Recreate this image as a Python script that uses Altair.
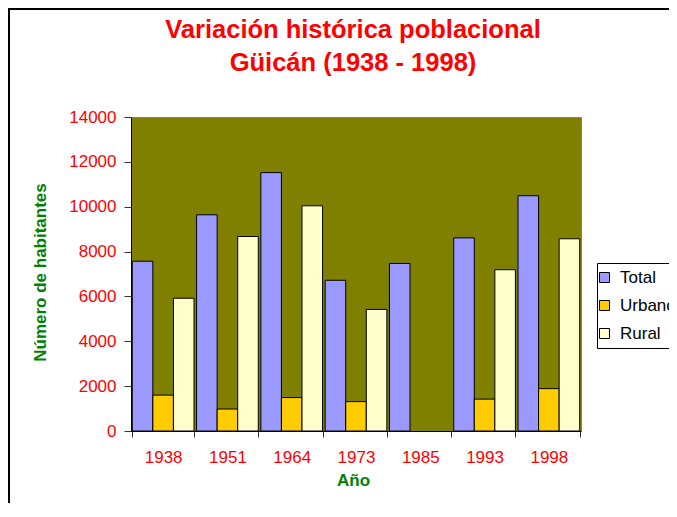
import altair as alt
import pandas as pd

years = ["1938", "1951", "1964", "1973", "1985", "1993", "1998"]
series = ["Total", "Urbano", "Rural"]
total = [7570, 9640, 11520, 6720, 7470, 8610, 10490]
urbano = [1600, 980, 1490, 1310, None, 1420, 1890]
rural = [5920, 8670, 10040, 5420, None, 7190, 8570]
colors = ["#9999FF", "#FFCC00", "#FFFFCC"]
y_ticks = [0, 2000, 4000, 6000, 8000, 10000, 12000, 14000]
title_lines = ["Variación histórica poblacional", "Güicán (1938 - 1998)"]

rows = []
for i, yr in enumerate(years):
    for s, vals in zip(series, [total, urbano, rural]):
        if vals[i] is not None:
            rows.append({"Año": yr, "Serie": s, "Valor": vals[i]})
df = pd.DataFrame(rows)

FONT = "Liberation Sans"

bars = alt.Chart(df).mark_bar(stroke="black", strokeWidth=1).encode(
    x=alt.X(
        "Año:N",
        sort=years,
        scale=alt.Scale(paddingInner=0.04, paddingOuter=0.02),
        axis=alt.Axis(
            title="Año",
            labelAngle=0,
            tickBand="extent",
            tickSize=6,
            labelPadding=12,
            labelFontSize=17,
            labelColor="#FF0000",
            labelFont=FONT,
            titleFont=FONT,
            titleFontSize=17,
            titleFontWeight="bold",
            titleColor="#008000",
            titleX=222,
            titleY=54,
            titleBaseline="alphabetic",
            domainColor="black",
            tickColor="#333333",
            grid=False,
        ),
    ),
    xOffset=alt.XOffset("Serie:N", sort=series, scale=alt.Scale(paddingInner=0, paddingOuter=0)),
    y=alt.Y(
        "Valor:Q",
        scale=alt.Scale(domain=[0, 14000], nice=False),
        axis=alt.Axis(
            title="Número de habitantes",
            values=y_ticks,
            format="d",
            tickSize=7,
            labelPadding=8,
            labelFontSize=17,
            labelColor="#FF0000",
            labelFont=FONT,
            titleFont=FONT,
            titleFontSize=17,
            titleFontWeight="bold",
            titleColor="#008000",
            titleAngle=-90,
            titleX=-91,
            titleY=155,
            titleAlign="center",
            titleBaseline="middle",
            domainColor="black",
            tickColor="#333333",
            grid=False,
        ),
    ),
    color=alt.Color(
        "Serie:N",
        sort=series,
        scale=alt.Scale(domain=series, range=colors),
        legend=alt.Legend(
            title=None,
            orient="none",
            legendX=466,
            legendY=146,
            symbolType="square",
            symbolSize=100,
            symbolStrokeColor="black",
            symbolStrokeWidth=1,
            symbolOffset=-7,
            labelFontSize=17,
            labelFont=FONT,
            labelColor="black",
            labelOffset=7,
            rowPadding=10,
            padding=6,
            strokeColor="black",
            fillColor="white",
        ),
    ),
)

frame = alt.Chart(alt.Data(values=[{"a": 1}])).mark_rect(
    fillOpacity=0, stroke="black", strokeWidth=2
).encode(
    x=alt.value(-122),
    x2=alt.value(700),
    y=alt.value(-108),
    y2=alt.value(600),
)

title = alt.Chart(alt.Data(values=[{"t": title_lines}])).mark_text(
    font=FONT,
    fontSize=25.5,
    fontWeight="bold",
    color="#FF0000",
    lineHeight=33,
    align="center",
    baseline="alphabetic",
).encode(
    text="t:N",
    x=alt.value(222),
    y=alt.value(-79),
)

chart = alt.layer(frame, bars, title).properties(
    width=450,
    height=314,
    padding={"left": 123, "top": 109, "right": 88, "bottom": 72},
    autosize=alt.AutoSizeParams(type="none"),
).configure(
    background="white"
).configure_view(
    fill="#808000", stroke="#808080", strokeWidth=1
)

chart.save("out.html", embed_options={"renderer": "svg", "actions": False})
